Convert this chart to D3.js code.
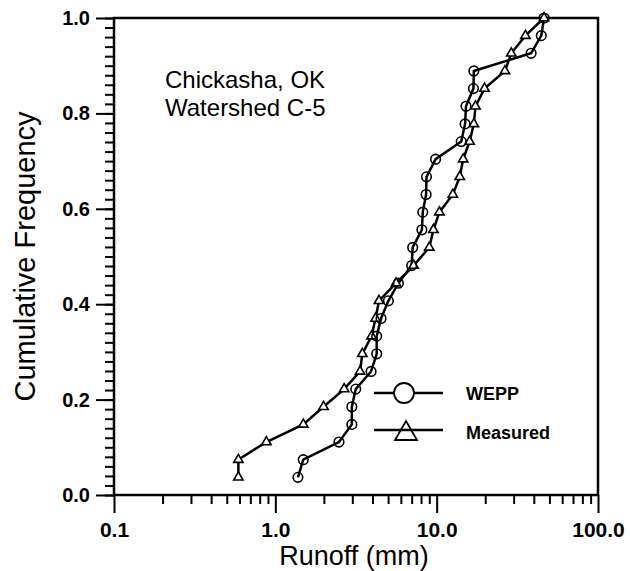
<!DOCTYPE html>
<html>
<head>
<meta charset="utf-8">
<script src="https://cdn.jsdelivr.net/npm/d3@7"></script>
<style>
  body { margin: 0; background: #fff; }
  text { font-family: Arial, "Liberation Sans", sans-serif; }
</style>
</head>
<body>
<script>
// cumulative frequency levels (27 events)
const freq = [0.037, 0.074, 0.111, 0.148, 0.185, 0.222, 0.259, 0.296, 0.333,
              0.370, 0.407, 0.444, 0.481, 0.519, 0.556, 0.593, 0.630, 0.667,
              0.704, 0.741, 0.778, 0.815, 0.852, 0.889, 0.926, 0.963, 1.000];

// runoff (mm)
const wepp = [1.38, 1.49, 2.48, 2.98, 2.98, 3.15, 3.92, 4.25, 4.25,
              4.52, 5.02, 5.79, 7.0, 7.1, 8.1, 8.2, 8.6, 8.65,
              9.85, 14.2, 15.0, 15.2, 16.9, 17.0, 38.5, 44.5, 46.3];
const measured = [0.59, 0.59, 0.88, 1.49, 1.99, 2.67, 3.35, 3.46, 3.95,
                  4.18, 4.39, 5.6, 7.2, 9.0, 9.55, 10.4, 12.6, 13.9,
                  14.6, 16.0, 17.0, 17.4, 19.8, 26.5, 29.0, 35.5, 46.3];

const xMajor = [0.1, 1, 10, 100];
const xMinor = [0.2, 0.3, 0.4, 0.5, 0.6, 0.7, 0.8, 0.9,
                2, 3, 4, 5, 6, 7, 8, 9,
                20, 30, 40, 50, 60, 70, 80, 90];
const yMajor = [0, 0.2, 0.4, 0.6, 0.8, 1.0];
const yMinor = d3.range(0, 1.001, 0.02);

const svgWidth = 630, svgHeight = 571;
const plot = {left: 114, right: 598, top: 18, bottom: 495};

const svg = d3.select("body").append("svg")
    .attr("width", svgWidth)
    .attr("height", svgHeight);

const x = d3.scaleLog().domain([0.1, 100]).range([plot.left, plot.right]);
const y = d3.scaleLinear().domain([0, 1]).range([plot.bottom, plot.top]);

// frame
svg.append("rect")
    .attr("x", plot.left).attr("y", plot.top)
    .attr("width", plot.right - plot.left).attr("height", plot.bottom - plot.top)
    .attr("fill", "none").attr("stroke", "#000").attr("stroke-width", 2.5);

// y axis
svg.append("g")
    .attr("transform", `translate(${plot.left},0)`)
    .call(d3.axisLeft(y).tickValues(yMinor).tickSize(9).tickFormat("").tickSizeOuter(0))
    .call(g => g.select(".domain").remove())
    .call(g => g.selectAll("line").attr("stroke-width", 2));
svg.append("g")
    .attr("transform", `translate(${plot.left},0)`)
    .call(d3.axisLeft(y).tickValues(yMajor).tickSize(18).tickPadding(6)
        .tickFormat(d3.format(".1f")).tickSizeOuter(0))
    .call(g => g.select(".domain").remove())
    .call(g => g.selectAll("line").attr("stroke-width", 2))
    .call(g => g.selectAll("text")
        .attr("font-size", 20).attr("font-weight", "bold").attr("fill", "#000")
        .attr("font-family", "Arial, 'Liberation Sans', sans-serif"));

// x axis
svg.append("g")
    .attr("transform", `translate(0,${plot.bottom})`)
    .call(d3.axisBottom(x).tickValues(xMinor).tickSize(9).tickFormat("").tickSizeOuter(0))
    .call(g => g.select(".domain").remove())
    .call(g => g.selectAll("line").attr("stroke-width", 2));
svg.append("g")
    .attr("transform", `translate(0,${plot.bottom})`)
    .call(d3.axisBottom(x).tickValues(xMajor).tickSize(18).tickPadding(9)
        .tickFormat(d3.format(".1f")).tickSizeOuter(0))
    .call(g => g.select(".domain").remove())
    .call(g => g.selectAll("line").attr("stroke-width", 2))
    .call(g => g.selectAll("text")
        .attr("font-size", 21).attr("font-weight", "bold").attr("fill", "#000")
        .attr("font-family", "Arial, 'Liberation Sans', sans-serif"));

// axis titles
svg.append("text")
    .attr("x", (plot.left + plot.right) / 2 - 2).attr("y", 565)
    .attr("text-anchor", "middle")
    .attr("font-size", 27)
    .text("Runoff (mm)");
svg.append("text")
    .attr("transform", `translate(35,${(plot.top + plot.bottom) / 2}) rotate(-90)`)
    .attr("text-anchor", "middle")
    .attr("font-size", 29)
    .text("Cumulative Frequency");

// site annotation
svg.append("text").attr("x", 165).attr("y", 88).attr("font-size", 24).text("Chickasha, OK");
svg.append("text").attr("x", 165).attr("y", 116).attr("font-size", 24).text("Watershed C-5");

// series
const line = d3.line().x(d => x(d[0])).y(d => y(d[1]));
const weppPts = wepp.map((v, i) => [v, freq[i]]);
const measPts = measured.map((v, i) => [v, freq[i]]);

svg.append("path").datum(measPts).attr("d", line)
    .attr("fill", "none").attr("stroke", "#000").attr("stroke-width", 2.5);
svg.append("path").datum(weppPts).attr("d", line)
    .attr("fill", "none").attr("stroke", "#000").attr("stroke-width", 2.5);

const tri = d3.symbol().type(d3.symbolTriangle).size(38);
svg.append("g").selectAll("path")
    .data(measPts).join("path")
    .attr("transform", d => `translate(${x(d[0])},${y(d[1])})`)
    .attr("d", tri)
    .attr("fill", "#fff").attr("stroke", "#000").attr("stroke-width", 1.6);

svg.append("g").selectAll("circle")
    .data(weppPts).join("circle")
    .attr("cx", d => x(d[0])).attr("cy", d => y(d[1])).attr("r", 4.8)
    .attr("fill", "none").attr("stroke", "#000").attr("stroke-width", 1.6);

// legend
const legend = svg.append("g");
legend.append("line").attr("x1", 374).attr("x2", 443).attr("y1", 393).attr("y2", 393)
    .attr("stroke", "#000").attr("stroke-width", 2.5);
legend.append("circle").attr("cx", 404).attr("cy", 393).attr("r", 10)
    .attr("fill", "#fff").attr("stroke", "#000").attr("stroke-width", 1.8);
legend.append("text").attr("x", 466).attr("y", 400)
    .attr("font-size", 18).attr("font-weight", "bold").text("WEPP");

legend.append("line").attr("x1", 374).attr("x2", 443).attr("y1", 430).attr("y2", 430)
    .attr("stroke", "#000").attr("stroke-width", 2.5);
legend.append("path")
    .attr("d", "M406,421 L417,440 L395,440 Z")
    .attr("fill", "none").attr("stroke", "#000").attr("stroke-width", 1.8);
legend.append("text").attr("x", 466).attr("y", 439)
    .attr("font-size", 18).attr("font-weight", "bold").text("Measured");
</script>
</body>
</html>
